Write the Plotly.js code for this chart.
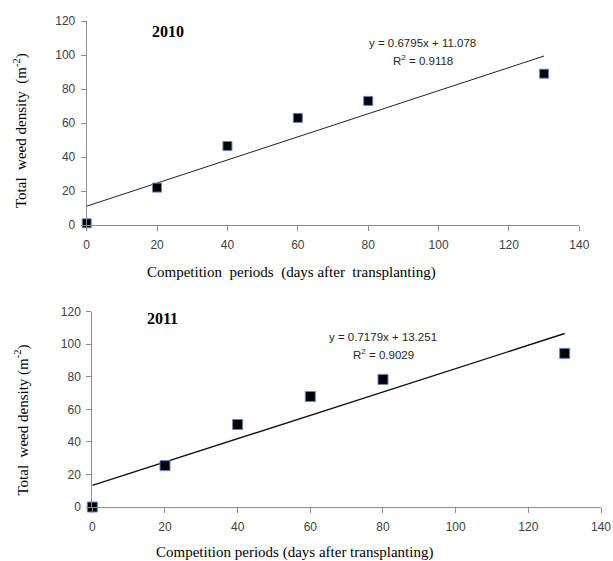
<!DOCTYPE html>
<html>
<head>
<meta charset="utf-8">
<script src="https://cdn.plot.ly/plotly-3.0.1.min.js"></script>
<style>
  html, body { margin: 0; padding: 0; background: #fff; }
  #chart { width: 613px; height: 561px; }
</style>
</head>
<body>
<div id="chart"></div>
<script>
// ---- data ----
const days = [0, 20, 40, 60, 80, 130];
const density2010 = [1, 22, 46.5, 63, 73, 89];
const density2011 = [0, 25.4, 50.7, 67.9, 78.4, 94.4];
const years = ["2010", "2011"];
const slopes = [0.6795, 0.7179];
const intercepts = [11.078, 13.251];
const rSquared = [0.9118, 0.9029];
const trendX = [0, 130];
const xTicks = [0, 20, 40, 60, 80, 100, 120, 140];
const yTicks = [0, 20, 40, 60, 80, 100, 120];

const W = 613, H = 561;
const px = v => v / W;
const py = v => 1 - v / H;

function trendY(i) { return trendX.map(x => slopes[i] * x + intercepts[i]); }

const markerBase = { symbol: 'square', color: '#000000', line: { color: '#5b8bc9', width: 1 } };

const traces = [
  { x: trendX, y: trendY(0), mode: 'lines', line: { color: '#222', width: 1 }, xaxis: 'x', yaxis: 'y', hoverinfo: 'skip', cliponaxis: false },
  { x: days, y: density2010, mode: 'markers', marker: Object.assign({ size: 9 }, markerBase), xaxis: 'x', yaxis: 'y', cliponaxis: false },
  { x: trendX, y: trendY(1), mode: 'lines', line: { color: '#111', width: 1.4 }, xaxis: 'x2', yaxis: 'y2', hoverinfo: 'skip', cliponaxis: false },
  { x: days, y: density2011, mode: 'markers', marker: Object.assign({ size: 10 }, markerBase), xaxis: 'x2', yaxis: 'y2', cliponaxis: false }
];

const axisCommon = {
  showline: true, linecolor: '#8c8c8c', linewidth: 1,
  ticks: 'outside', tickcolor: '#8c8c8c', ticklen: 5, tickwidth: 1,
  showgrid: false, zeroline: false,
  tickfont: { family: 'Liberation Sans, Arial, sans-serif', size: 12, color: '#404040' },
  fixedrange: true
};

const xAx = (dom, anchor) => Object.assign({}, axisCommon, { domain: dom, anchor: anchor, range: [0, 140], tickvals: xTicks, ticklabelstandoff: 4 });
const yAx = (dom, anchor) => Object.assign({}, axisCommon, { domain: dom, anchor: anchor, range: [0, 120], tickvals: yTicks, ticklabelstandoff: 3 });

const serif = 'Liberation Serif, Times New Roman, serif';
const sans = 'Liberation Sans, Arial, sans-serif';

function ann(text, x, y, font, extra) {
  return Object.assign({ text: text, x: px(x), y: py(y), xref: 'paper', yref: 'paper', showarrow: false, xanchor: 'center', yanchor: 'middle', font: font }, extra || {});
}

const annotations = [
  ann('<b>' + years[0] + '</b>', 168, 31, { family: serif, size: 16, color: '#000' }),
  ann('y = ' + slopes[0] + 'x + ' + intercepts[0], 423, 43.5, { family: sans, size: 11.5, color: '#262626' }),
  ann('R<sup>2</sup> = ' + rSquared[0], 423, 60, { family: sans, size: 11.5, color: '#262626' }),
  ann('Competition\u00a0 periods\u00a0 (days after\u00a0 transplanting)', 291, 272.5, { family: serif, size: 15, color: '#000' }),
  ann('Total\u00a0 weed density\u00a0 (m<sup>-2</sup>)', 20, 131, { family: serif, size: 15, color: '#000' }, { textangle: -90 }),

  ann('<b>' + years[1] + '</b>', 162, 318, { family: serif, size: 16, color: '#000' }),
  ann('y = ' + slopes[1] + 'x + ' + intercepts[1], 383, 337, { family: sans, size: 11.5, color: '#262626' }),
  ann('R<sup>2</sup> = ' + rSquared[1], 384, 354, { family: sans, size: 11.5, color: '#262626' }),
  ann('Competition periods (days after transplanting)', 294, 552.5, { family: serif, size: 15, color: '#000' }),
  ann('Total\u00a0 weed density (m<sup>-2</sup>)', 21.5, 420, { family: serif, size: 15, color: '#000' }, { textangle: -90 })
];

const layout = {
  width: W, height: H,
  margin: { l: 0, r: 0, t: 0, b: 0 },
  paper_bgcolor: '#fff', plot_bgcolor: 'rgba(0,0,0,0)',
  showlegend: false,
  xaxis: xAx([px(86.7), px(579.3)], 'y'),
  yaxis: yAx([py(225), py(21)], 'x'),
  xaxis2: xAx([px(92.3), px(601)], 'y2'),
  yaxis2: yAx([py(507), py(311.7)], 'x2'),
  annotations: annotations
};

Plotly.newPlot('chart', traces, layout, { displayModeBar: false, staticPlot: true });
</script>
</body>
</html>
